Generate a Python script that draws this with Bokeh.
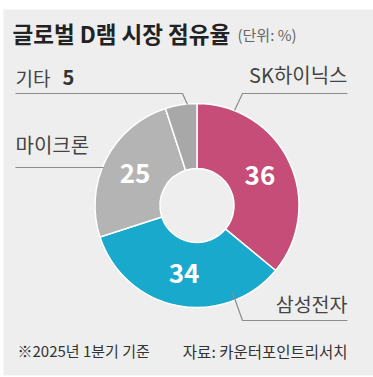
import math
from bokeh.plotting import figure
from bokeh.models import Range1d, ColumnDataSource
from bokeh.core.properties import value
from bokeh.embed import file_html
from bokeh.resources import INLINE

# ---- data ----
companies = ["SK하이닉스", "삼성전자", "마이크론", "기타"]
shares = [36, 34, 25, 5]
colors = ["#c64d77", "#19a9cd", "#b4b4b4", "#a8a8a8"]
title_txt = "글로벌 D램 시장 점유율"
unit_txt = "(단위: %)"
note_txt = "※2025년 1분기 기준"
source_txt = "자료: 카운터포인트리서치"

FONT = "Noto Sans CJK KR"
W, H = 373, 377


def Y(py):
    return H - py


p = figure(width=W, height=H, x_range=Range1d(0, W), y_range=Range1d(0, H),
           output_backend="svg", toolbar_location=None, min_border=0)
p.axis.visible = False
p.grid.visible = False
p.outline_line_color = None
p.background_fill_color = "white"
p.border_fill_color = "white"

# panel background
p.quad(left=3, right=373, top=Y(9), bottom=Y(375), fill_color="#eeeeee", line_color=None)

# donut
cx, cy = 196.5, Y(205)
r_out, r_in = 102, 37
total = sum(shares)
starts, ends, mids = [], [], []
c = 0
for s in shares:
    a0 = math.pi / 2 - 2 * math.pi * c / total
    c += s
    a1 = math.pi / 2 - 2 * math.pi * c / total
    starts.append(a0)
    ends.append(a1)
    mids.append((a0 + a1) / 2)

src = ColumnDataSource(dict(start=starts, end=ends, color=colors, name=companies, share=shares))
p.annular_wedge(x=cx, y=cy, inner_radius=r_in, outer_radius=r_out,
                start_angle="start", end_angle="end", direction="clock",
                fill_color="color", line_color="white", line_width=1.5, source=src)

# value labels inside (first three)
r_lab = (r_in + r_out) / 2
lab = ColumnDataSource(dict(
    x=[cx + r_lab * math.cos(m) for m in mids[:3]],
    y=[cy + r_lab * math.sin(m) for m in mids[:3]],
    t=[str(s) for s in shares[:3]]))
p.text(x="x", y="y", text="t", source=lab, text_color="white",
       text_font=value(FONT), text_font_size="26px", text_font_style="bold",
       text_align="center", text_baseline="middle")

# leader lines
lc = "#8c8c8c"
p.line(x=[15, 182, 187], y=[Y(93), Y(93), Y(104)], line_color=lc, line_width=1.2)
p.line(x=[15, 103], y=[Y(167), Y(167)], line_color=lc, line_width=1.2)
p.line(x=[347, 242, 234], y=[Y(93), Y(93), Y(110)], line_color=lc, line_width=1.2)
p.line(x=[232, 242, 347], y=[Y(292), Y(320), Y(320)], line_color=lc, line_width=1.2)


def txt(x, y, t, size, color="#444444", style="normal", align="left"):
    p.text(x=[x], y=[Y(y)], text=[t], text_font=value(FONT), text_font_size=size,
           text_color=color, text_font_style=style, text_align=align,
           text_baseline="middle")


txt(12, 32, title_txt, "22.5px", "#222222", "bold")
txt(237, 34, unit_txt, "15px", "#666666")
txt(15, 77, companies[3], "19px")
txt(62, 77, str(shares[3]), "20px", "#333333", "bold")
txt(15, 144, companies[2], "20px")
txt(347, 74, companies[0], "20px", align="right")
txt(347, 303, companies[1], "19.5px", align="right")
txt(17, 350, note_txt, "15px", "#333333")
txt(347, 350, source_txt, "15.5px", "#333333", align="right")

open("out.html", "w").write(file_html(p, INLINE))
